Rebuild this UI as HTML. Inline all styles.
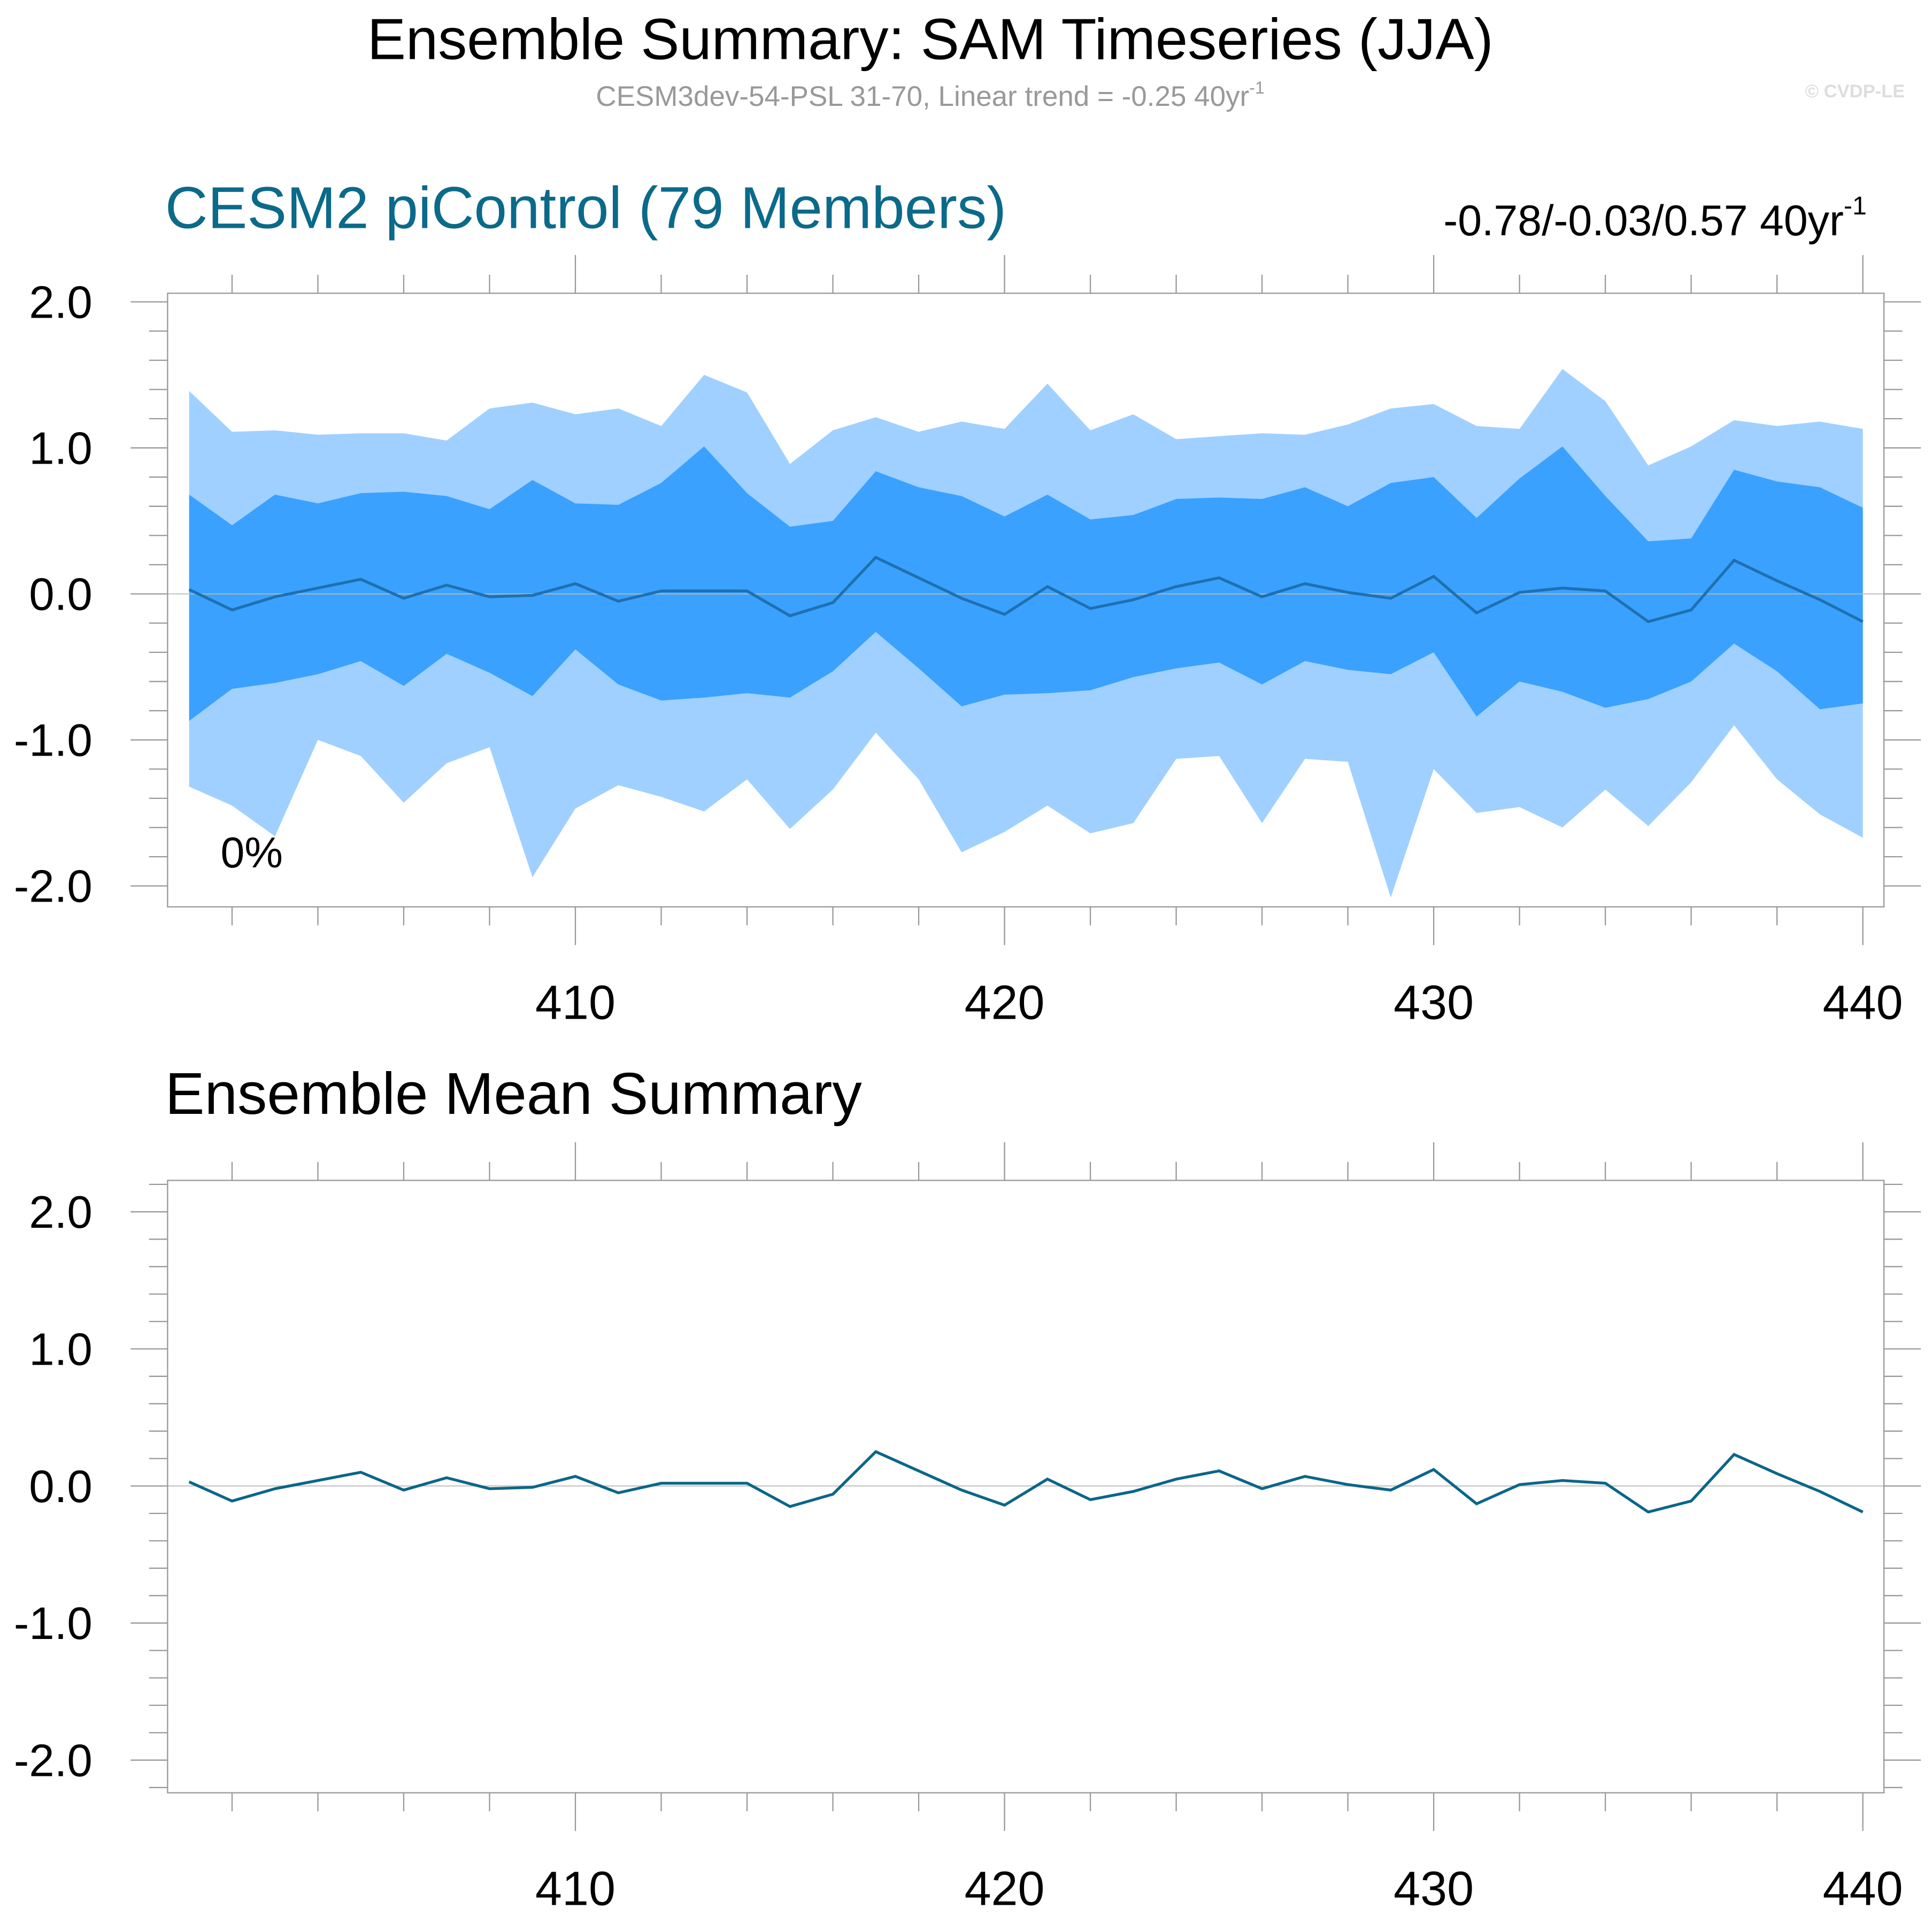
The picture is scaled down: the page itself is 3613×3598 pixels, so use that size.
<!DOCTYPE html>
<html><head><meta charset="utf-8"><style>
html,body{margin:0;padding:0;background:#fff}
svg{display:block;font-family:"Liberation Sans",sans-serif}
</style></head><body>
<svg id="chart" width="3613" height="3598" viewBox="0 0 1568 1561.5" xmlns="http://www.w3.org/2000/svg">
<text x="755" y="48" font-size="47" text-anchor="middle">Ensemble Summary: SAM Timeseries (JJA)</text>
<text x="755" y="86" font-size="23" fill="#999" text-anchor="middle">CESM3dev-54-PSL 31-70, Linear trend = -0.25 40yr<tspan font-size="14" dy="-10">-1</tspan></text>
<text x="1546" y="79" font-size="15" fill="#ddd" font-weight="bold" text-anchor="end">© CVDP-LE</text>
<text x="134" y="185" font-size="48" fill="#0b6a8a">CESM2 piControl (79 Members)</text>
<text x="1515" y="191" font-size="35" text-anchor="end">-0.78/-0.03/0.57 40yr<tspan font-size="21" dy="-17">-1</tspan></text>
<text x="134" y="904" font-size="48">Ensemble Mean Summary</text>
<g id="top"></g><g id="bot"></g>
</svg>
<script>
const years=[];for(let y=401;y<=440;y++)years.push(y);
const meanVals=[0.03,-0.11,-0.02,0.04,0.10,-0.03,0.06,-0.02,-0.01,0.07,-0.05,0.02,0.02,0.02,-0.15,-0.06,0.25,0.11,-0.03,-0.14,0.05,-0.10,-0.04,0.05,0.11,-0.02,0.07,0.01,-0.03,0.12,-0.13,0.01,0.04,0.02,-0.19,-0.11,0.23,0.09,-0.04,-0.19];
const outerHi=[1.39,1.11,1.12,1.09,1.10,1.10,1.05,1.27,1.31,1.23,1.27,1.15,1.50,1.38,0.89,1.12,1.21,1.11,1.18,1.13,1.44,1.12,1.23,1.06,1.08,1.10,1.09,1.16,1.27,1.30,1.15,1.13,1.54,1.32,0.88,1.01,1.19,1.15,1.18,1.13];
const innerHi=[0.68,0.47,0.68,0.62,0.69,0.70,0.67,0.58,0.78,0.62,0.61,0.76,1.01,0.69,0.46,0.50,0.84,0.73,0.67,0.53,0.68,0.51,0.54,0.65,0.66,0.65,0.73,0.60,0.76,0.80,0.52,0.79,1.01,0.67,0.36,0.38,0.85,0.77,0.73,0.59];
const innerLo=[-0.87,-0.65,-0.61,-0.55,-0.46,-0.63,-0.41,-0.54,-0.70,-0.38,-0.62,-0.73,-0.71,-0.68,-0.71,-0.53,-0.26,-0.51,-0.77,-0.69,-0.68,-0.66,-0.57,-0.51,-0.47,-0.62,-0.46,-0.52,-0.55,-0.40,-0.84,-0.60,-0.67,-0.78,-0.72,-0.60,-0.34,-0.53,-0.79,-0.75];
const outerLo=[-1.32,-1.45,-1.66,-1.00,-1.11,-1.43,-1.16,-1.05,-1.94,-1.47,-1.31,-1.39,-1.49,-1.27,-1.61,-1.34,-0.95,-1.27,-1.77,-1.63,-1.45,-1.64,-1.57,-1.13,-1.11,-1.57,-1.13,-1.15,-2.08,-1.20,-1.50,-1.46,-1.60,-1.34,-1.59,-1.29,-0.90,-1.27,-1.51,-1.67];
const yTicks=[2,1,0,-1,-2];const yTickLabels=["2.0","1.0","0.0","-1.0","-2.0"];
const xTicks=[410,420,430,440];
const NS="http://www.w3.org/2000/svg";
function mk(p,t,a){const e=document.createElementNS(NS,t);for(const k in a)e.setAttribute(k,a[k]);p.appendChild(e);return e;}
function panel(g,top,bottom,zeroY,unit,bands){
  const L=136,R=1529;
  const X=v=>153.5+(v-401)*34.83;
  const Y=v=>zeroY-v*unit;
  if(bands){
    const band=(hi,lo,c,n)=>{let d="M"+years.map((y,i)=>X(y)+","+Y(hi[i])).join("L");
      for(let i=years.length-1;i>=0;i--)d+="L"+X(years[i])+","+Y(lo[i]);
      const p=mk(g,"path",{d:d+"Z",fill:c});
      
      };
    band(outerHi,outerLo,"#a0d0ff","outer-spread-band");
    band(innerHi,innerLo,"#3aa1ff","inner-spread-band");
  }
  const z=mk(g,"line",{x1:L,x2:R,y1:Y(0),y2:Y(0),stroke:"#bbb","stroke-width":0.8});
  
  
  const ln=mk(g,"polyline",{points:years.map((y,i)=>X(y)+","+Y(meanVals[i])).join(" "),fill:"none",stroke:bands?"#1f70b0":"#0b6688","stroke-width":2.3});
  
  
  const fr=mk(g,"rect",{x:L,y:top,width:R-L,height:bottom-top,fill:"none",stroke:"#999","stroke-width":1});
  
  
  for(let v=-2.2;v<=2.21;v+=0.2){const yy=Y(v);if(yy<top||yy>bottom)continue;
    const maj=Math.abs(v-Math.round(v))<1e-6;const len=maj?30:15;
    mk(g,"line",{x1:L-len,x2:L,y1:yy,y2:yy,stroke:"#999","stroke-width":1});
    mk(g,"line",{x1:R,x2:R+len,y1:yy,y2:yy,stroke:"#999","stroke-width":1});}
  yTicks.forEach((v,i)=>{const t=mk(g,"text",{x:75,y:Y(v)+13,"font-size":37,"text-anchor":"end"});t.textContent=yTickLabels[i];
    
    });
  for(let y=402;y<=440;y+=2){const maj=y%10===0;const len=maj?31:15;
    mk(g,"line",{x1:X(y),x2:X(y),y1:top-len,y2:top,stroke:"#999","stroke-width":1});
    mk(g,"line",{x1:X(y),x2:X(y),y1:bottom,y2:bottom+len,stroke:"#999","stroke-width":1});}
  xTicks.forEach(v=>{const t=mk(g,"text",{x:X(v),y:bottom+91,"font-size":39,"text-anchor":"middle"});t.textContent=v;
    
    });
}
panel(document.getElementById("top"),238,736,482,118.5,true);
panel(document.getElementById("bot"),958,1455,1206,111.25,false);
const pct=mk(document.getElementById("top"),"text",{x:179,y:704,"font-size":35});pct.textContent="0%";


</script>
</body></html>
